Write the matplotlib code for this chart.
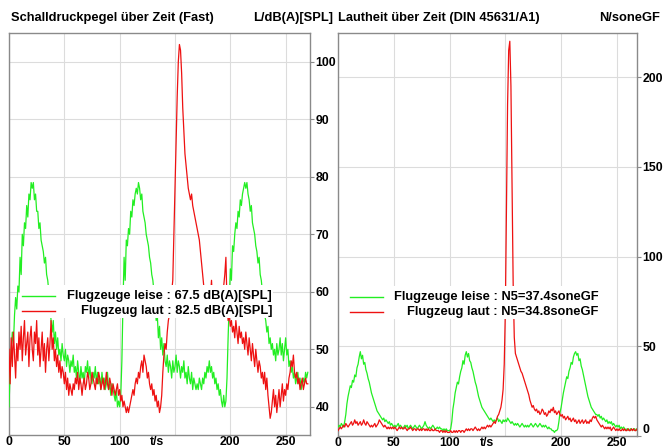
import numpy as np
import matplotlib
matplotlib.use("Agg")
import matplotlib.pyplot as plt
from matplotlib.patches import Rectangle
from matplotlib.lines import Line2D

plt.rcParams['font.family'] = ['Liberation Sans', 'DejaVu Sans']

# Zeitachse in Sekunden (1 s Raster)
t = np.arange(0, 271)

# Schalldruckpegel dB(A), Flugzeuge leise
spl_leise = [
    40, 46, 50, 53, 51, 56, 59, 57, 61, 60,
    66, 63, 70, 68, 72, 71, 75, 73, 77, 76,
    79, 78, 79, 76, 77, 74, 74, 71, 72, 69,
    68, 67, 65, 66, 63, 62, 60, 58, 55, 53,
    55, 51, 53, 50, 52, 49, 50, 48, 51, 49,
    48, 50, 47, 49, 48, 46, 48, 47, 49, 46,
    47, 45, 48, 46, 44, 47, 45, 46, 44, 47,
    46, 48, 45, 47, 45, 44, 46, 45, 47, 44,
    46, 44, 45, 43, 46, 44, 45, 43, 44, 46,
    43, 44, 42, 44, 43, 42, 41, 43, 40, 41,
    40, 42, 48, 58, 66, 62, 69, 68, 71, 70,
    74, 73, 76, 75, 77, 78, 77, 79, 78, 76,
    77, 74, 73, 72, 70, 69, 68, 66, 65, 63,
    62, 60, 58, 55, 56, 52, 54, 50, 52, 49,
    51, 48, 47, 49, 46, 48, 47, 45, 48, 46,
    47, 49, 46, 48, 47, 45, 47, 46, 48, 45,
    46, 44, 47, 45, 44, 46, 43, 45, 44, 43,
    44, 43, 45, 44, 43, 45, 44, 46, 45, 47,
    46, 48, 46, 47, 45, 46, 44, 45, 43, 44,
    42, 43, 41, 40, 42, 40, 41, 45, 52, 58,
    64, 62, 68, 67, 70, 72, 71, 74, 73, 76,
    75, 77, 78, 79, 78, 79, 77, 76, 74, 75,
    72, 71, 70, 68, 67, 65, 66, 63, 62, 60,
    58, 56, 55, 53, 54, 51, 52, 50, 51, 49,
    50, 48, 51, 49, 50, 52, 49, 51, 48, 50,
    52, 49, 50, 47, 48, 46, 47, 45, 46, 44,
    45, 46, 44, 45, 43, 44, 45, 44, 46, 45,
    46,
]

# Schalldruckpegel dB(A), Flugzeug laut
spl_laut = [
    50, 44, 52, 47, 53, 49, 45, 51, 48, 53,
    50, 54, 48, 52, 55, 49, 51, 53, 47, 52,
    54, 50, 48, 53, 51, 55, 49, 52, 47, 50,
    53, 48, 51, 46, 50, 52, 48, 51, 55, 50,
    52, 48, 50, 47, 49, 46, 48, 45, 47, 46,
    44, 46, 43, 45, 42, 44, 43, 42, 44, 43,
    45, 44, 46, 43, 45, 44, 42, 44, 45, 43,
    44, 46, 45, 43, 44, 46, 45, 44, 43, 45,
    44, 46, 45, 43, 44, 45, 43, 44, 46, 44,
    43, 45, 44, 42, 44, 43, 42, 43, 44, 42,
    43, 41, 42, 40, 41, 40, 39, 40, 39, 40,
    41, 42, 43, 42, 44, 45, 44, 46, 45, 47,
    48, 46, 49, 48, 47, 45, 46, 44, 43, 44,
    42, 43, 41, 42, 40, 41, 39, 40, 42, 46,
    49, 51, 50, 53, 55, 56, 58, 60, 62, 70,
    78, 86, 94, 100, 103, 102, 98, 92, 88, 84,
    82, 80, 78, 77, 76, 77, 75, 74, 73, 72,
    71, 70, 69, 67, 65, 63, 61, 60, 59, 57,
    58, 56, 59, 62, 58, 57, 59, 56, 58, 57,
    56, 58, 57, 59, 61, 63, 66, 58, 55, 56,
    54, 55, 53, 54, 52, 55, 53, 51, 54, 52,
    53, 51, 52, 50, 53, 51, 49, 52, 50, 48,
    51, 49, 47, 50, 48, 46, 48, 47, 45, 46,
    44, 46, 43, 45, 42, 40, 38, 39, 41, 43,
    40, 42, 39, 41, 43, 40, 42, 44, 41, 43,
    42, 44, 43, 45, 46, 48, 47, 49, 46, 45,
    46, 44, 45, 43, 44, 45, 43, 44, 45, 44,
    44,
]

# Lautheit soneGF, Flugzeuge leise
n_leise = [
    5, 6, 5, 7, 6, 5, 8, 12, 18, 22,
    25, 28, 27, 31, 30, 34, 33, 38, 40, 44,
    47, 43, 45, 40, 41, 37, 35, 32, 30, 27,
    24, 22, 20, 18, 16, 14, 13, 12, 11, 10,
    9, 10, 8, 9, 8, 7, 8, 6, 7, 6,
    5, 6, 5, 6, 7, 5, 6, 5, 4, 5,
    6, 5, 6, 4, 5, 6, 5, 4, 5, 6,
    5, 4, 5, 6, 5, 4, 5, 6, 8, 6,
    5, 4, 5, 4, 5, 6, 5, 4, 4, 5,
    4, 5, 4, 4, 3, 4, 3, 4, 3, 3,
    3, 4, 8, 15, 19, 24, 27, 30, 29, 33,
    36, 38, 42, 40, 45, 47, 44, 46, 42, 41,
    38, 36, 33, 30, 28, 25, 22, 20, 18, 16,
    15, 14, 13, 12, 11, 10, 9, 10, 9, 8,
    9, 8, 9, 10, 8, 9, 8, 7, 9, 8,
    9, 8, 10, 9, 8, 7, 8, 7, 6, 7,
    6, 7, 6, 5, 6, 7, 6, 5, 6, 5,
    6, 5, 6, 7, 6, 5, 6, 7, 6, 5,
    6, 7, 6, 5, 6, 5, 6, 5, 4, 5,
    4, 4, 3, 3, 2, 3, 3, 4, 8, 13,
    16, 20, 24, 27, 30, 33, 32, 36, 38, 41,
    40, 44, 46, 47, 45, 46, 42, 43, 39, 37,
    34, 31, 28, 25, 22, 20, 18, 16, 15, 14,
    13, 12, 12, 11, 12, 10, 11, 9, 10, 9,
    8, 9, 7, 8, 7, 8, 6, 7, 6, 5,
    6, 5, 6, 4, 5, 4, 5, 4, 3, 4,
    4, 3, 4, 4, 3, 4, 4, 3, 4, 4,
    4,
]

# Lautheit soneGF, Flugzeug laut
n_laut = [
    3, 4, 5, 4, 5, 6, 5, 7, 6, 5,
    6, 7, 8, 6, 7, 9, 7, 8, 6, 7,
    8, 6, 7, 9, 7, 6, 8, 7, 6, 5,
    6, 5, 6, 7, 5, 6, 7, 9, 8, 7,
    6, 5, 6, 5, 4, 5, 4, 5, 4, 5,
    4, 5, 4, 3, 4, 5, 4, 5, 4, 4,
    5, 4, 3, 4, 4, 5, 4, 3, 4, 4,
    3, 4, 4, 3, 4, 3, 4, 4, 3, 4,
    3, 4, 3, 3, 4, 3, 3, 4, 3, 3,
    3, 2, 3, 3, 2, 3, 2, 3, 2, 2,
    2, 3, 2, 2, 3, 2, 3, 2, 3, 3,
    2, 3, 3, 2, 3, 4, 3, 4, 3, 4,
    4, 3, 4, 5, 4, 3, 4, 3, 4, 5,
    4, 5, 4, 5, 6, 5, 6, 5, 6, 7,
    8, 7, 9, 11, 12, 14, 16, 20, 26, 40,
    70, 130, 185, 215, 220, 195, 140, 85, 55, 46,
    44, 42, 40, 38, 36, 35, 33, 31, 29, 27,
    25, 23, 20, 18, 16, 17, 15, 14, 15, 13,
    14, 12, 13, 15, 14, 12, 13, 11, 12, 14,
    13, 15, 14, 16, 13, 14, 12, 13, 14, 12,
    11, 12, 10, 11, 9, 10, 11, 9, 10, 8,
    9, 10, 8, 9, 7, 8, 9, 7, 8, 9,
    7, 8, 9, 7, 8, 7, 9, 8, 10, 11,
    10, 11, 9, 8, 7, 6, 5, 6, 5, 4,
    5, 4, 5, 4, 5, 3, 4, 5, 4, 3,
    4, 3, 4, 3, 3, 4, 3, 4, 3, 3,
    4, 3, 3, 4, 3, 4, 3, 3, 4, 3,
    3,
]

x_ticks = [0, 50, 100, 150, 200, 250]
x_labels = ['0', '50', '100', '', '200', '250']
spl_ticks = [40, 50, 60, 70, 80, 90, 100]
n_ticks = [0, 50, 100, 150, 200]

legend_spl = ['Flugzeuge leise : 67.5 dB(A)[SPL]', 'Flugzeug laut : 82.5 dB(A)[SPL]']
legend_n = ['Flugzeuge leise : N5=37.4soneGF', 'Flugzeug laut : N5=34.8soneGF']

GREEN = '#22ee22'
RED = '#ee1111'
FS = 9.3
FS_TICK = 8.8

fig = plt.figure(figsize=(6.63, 4.48), dpi=100)
ax1 = fig.add_axes([9 / 663, 13 / 448, 301 / 663, 402 / 448])
ax2 = fig.add_axes([338 / 663, 12 / 448, 299 / 663, 403 / 448])


def style_axes(ax, yticks, ylim, xmax):
    ax.set_xlim(0, xmax)
    ax.set_ylim(*ylim)
    ax.set_xticks(x_ticks)
    ax.set_xticklabels(x_labels)
    ax.set_yticks(yticks)
    ax.yaxis.tick_right()
    ax.grid(True, color='#dcdcdc', lw=0.8)
    ax.set_axisbelow(True)
    for s in ax.spines.values():
        s.set_color('#8a8a8a')
        s.set_linewidth(1.0)
    ax.tick_params(axis='x', length=0, pad=1, labelsize=FS_TICK)
    ax.tick_params(axis='y', length=3, width=0.8, color='#8a8a8a', pad=1, labelsize=FS_TICK)
    for lab in ax.get_xticklabels() + ax.get_yticklabels():
        lab.set_fontweight('bold')
    ax.text(134, -0.003, 't/s', transform=ax.get_xaxis_transform(),
            ha='center', va='top', fontsize=FS_TICK, fontweight='bold')


def legend_block(ax, labels, box_x0, box_x1, line_x0, line_x1, text_x):
    ax.add_patch(Rectangle((box_x0, 0.291), box_x1 - box_x0, 0.082,
                           transform=ax.transAxes, facecolor='white',
                           edgecolor='none', zorder=5))
    for lab, col, yy in zip(labels, [GREEN, RED], [0.346, 0.308]):
        ax.add_line(Line2D([line_x0, line_x1], [yy, yy], transform=ax.transAxes,
                           color=col, lw=1.0, zorder=6))
        ax.text(text_x, yy, lab, transform=ax.transAxes, ha='right', va='center',
                fontsize=FS, fontweight='bold', zorder=6)


# links: Schalldruckpegel
ax1.plot(t, spl_leise, color=GREEN, lw=0.9, zorder=3)
ax1.plot(t, spl_laut, color=RED, lw=0.9, zorder=3)
style_axes(ax1, spl_ticks, (35.1, 105.0), 272)
legend_block(ax1, legend_spl, 0.037, 0.877, 0.043, 0.153, 0.874)

# rechts: Lautheit
ax2.plot(t, n_leise, color=GREEN, lw=0.9, zorder=3)
ax2.plot(t, n_laut, color=RED, lw=0.9, zorder=3)
style_axes(ax2, n_ticks, (0, 224.6), 268)
legend_block(ax2, legend_n, 0.030, 0.876, 0.040, 0.150, 0.870)
for lab in ax2.get_yticklabels():
    if lab.get_text() == '0':
        lab.set_verticalalignment('bottom')

# Titel
ty = 1 - 18 / 448
fig.text(11 / 663, ty, 'Schalldruckpegel über Zeit (Fast)', ha='left', va='center',
         fontsize=FS, fontweight='bold')
fig.text(333 / 663, ty, 'L/dB(A)[SPL]', ha='right', va='center',
         fontsize=FS, fontweight='bold')
fig.text(338 / 663, ty, 'Lautheit über Zeit (DIN 45631/A1)', ha='left', va='center',
         fontsize=FS, fontweight='bold')
fig.text(660 / 663, ty, 'N/soneGF', ha='right', va='center',
         fontsize=FS, fontweight='bold')

fig.savefig('out.png', dpi=100)
